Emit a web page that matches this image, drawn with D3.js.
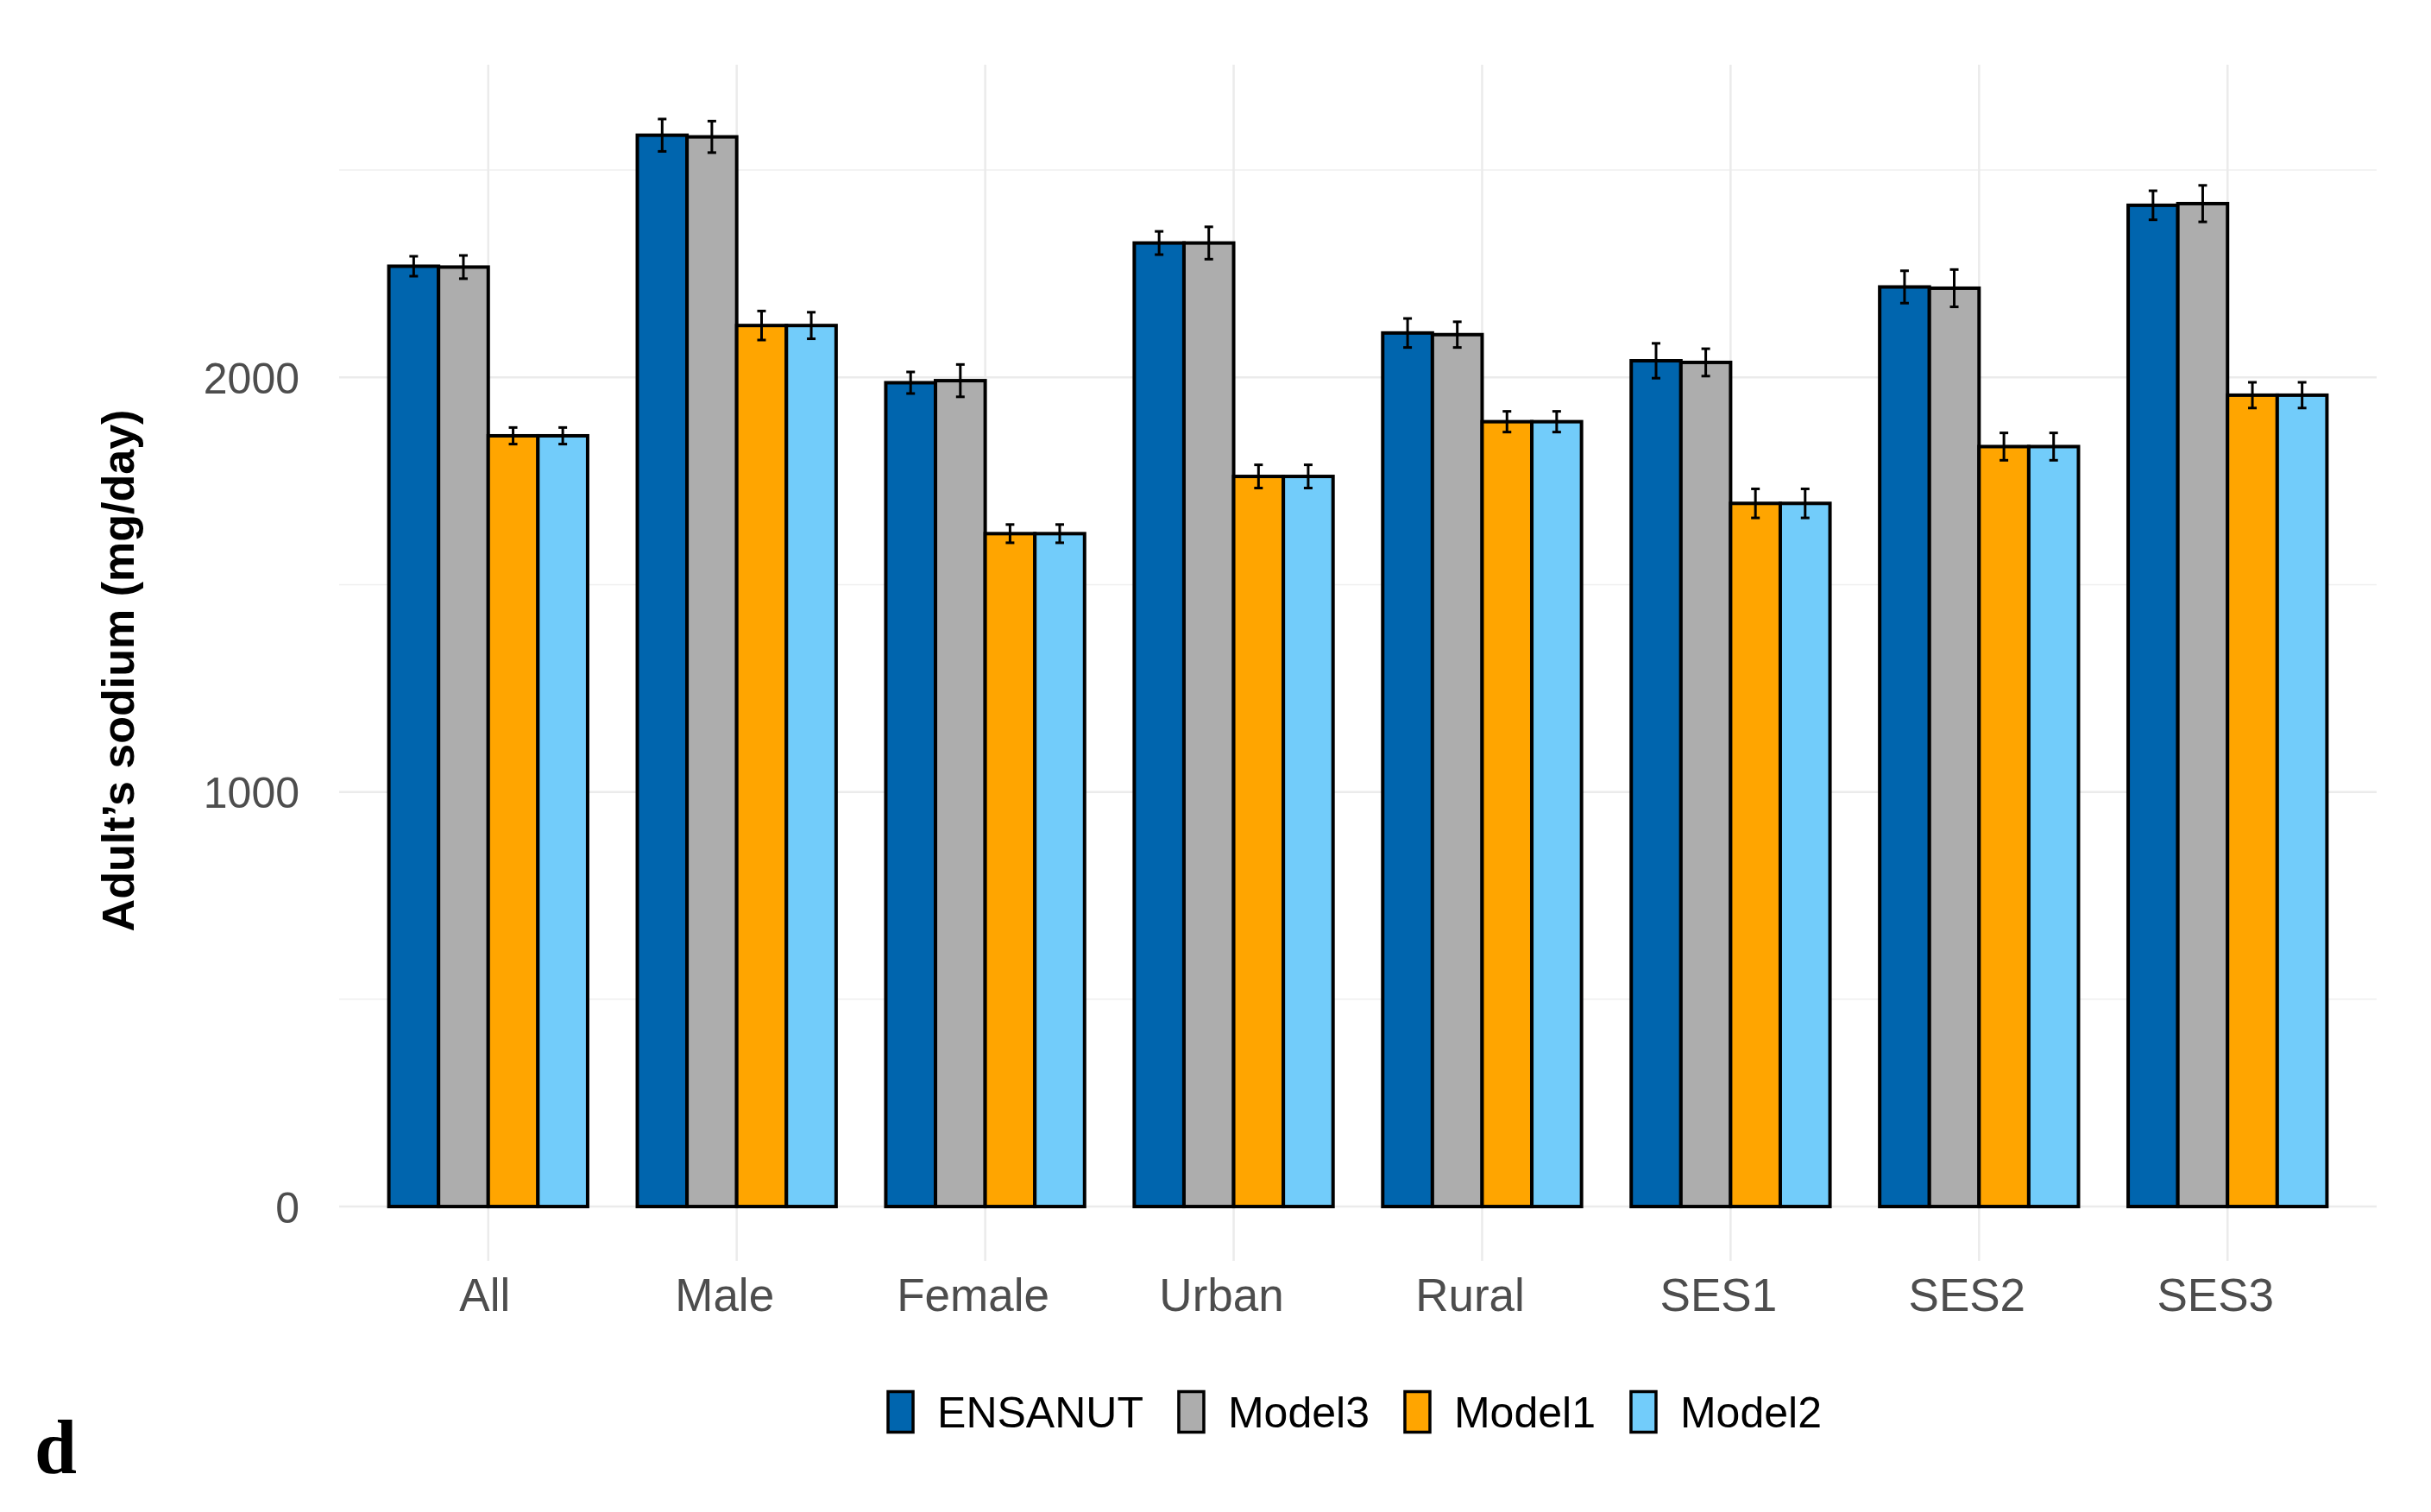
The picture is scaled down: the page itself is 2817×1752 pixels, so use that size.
<!DOCTYPE html>
<html>
<head>
<meta charset="utf-8">
<script src="https://cdn.jsdelivr.net/npm/d3@7"></script>
<style>
  html, body { margin: 0; padding: 0; background: #fff; }
  svg { display: block; }
</style>
</head>
<body>
<div id="main-vis"></div>
<script>
// data
const categories = ["All", "Male", "Female", "Urban", "Rural", "SES1", "SES2", "SES3"]
const seriesNames = ["ENSANUT", "Model3", "Model1", "Model2"]
const seriesColors = ["#0065AE", "#ADADAD", "#FFA500", "#72CCFA"]

const ensanut    = [2268, 2584, 1987, 2324, 2107, 2040, 2218, 2415]
const ensanutErr = [24, 39, 26, 28, 35, 42, 39, 35]
const model3     = [2266, 2580, 1992, 2324, 2103, 2036, 2215, 2419]
const model3Err  = [28, 38, 39, 39, 31, 33, 45, 44]
const model1     = [1859, 2125, 1623, 1761, 1893, 1696, 1833, 1957]
const model1Err  = [20, 35, 22, 28, 25, 35, 33, 31]
const model2     = [1859, 2125, 1623, 1761, 1893, 1696, 1833, 1957]
const model2Err  = [20, 32, 22, 28, 25, 35, 33, 31]

const yTicks = [0, 1000, 2000]
const yMinorTicks = [500, 1500, 2500]

const W = 2817, H = 1752
const panel = {left: 393, right: 2754, top: 75, bottom: 1461}
const font = "'Liberation Sans', Arial, sans-serif"

const values = [ensanut, model3, model1, model2]
const errors = [ensanutErr, model3Err, model1Err, model2Err]

// long table for the bars
const rows = []
categories.forEach((c, i) => {
    seriesNames.forEach((s, j) => {
        rows.push({cat: c, series: s, color: seriesColors[j], v: values[j][i], e: errors[j][i]})
    })
})

const svg = d3.select('#main-vis').append('svg')
    .attr('width', W)
    .attr('height', H)
    .style('background', '#fff')

const x = d3.scaleBand()
    .domain(categories)
    .range([panel.left, panel.right])
    .paddingInner(0.2)
    .paddingOuter(0.2)

const xs = d3.scaleBand()
    .domain(seriesNames)
    .range([0, x.bandwidth()])
    .padding(0)

const y = d3.scaleLinear()
    .domain([-131, 2754])
    .range([panel.bottom, panel.top])

// grid lines
const grid = svg.append('g')
grid.selectAll('line.minor')
    .data(yMinorTicks)
    .join('line')
        .attr('class', 'minor')
        .attr('x1', panel.left).attr('x2', panel.right)
        .attr('y1', d => y(d)).attr('y2', d => y(d))
        .attr('stroke', '#EFEFEF')
        .attr('stroke-width', 1.5)
grid.selectAll('line.major')
    .data(yTicks)
    .join('line')
        .attr('class', 'major')
        .attr('x1', panel.left).attr('x2', panel.right)
        .attr('y1', d => y(d)).attr('y2', d => y(d))
        .attr('stroke', '#EBEBEB')
        .attr('stroke-width', 2.5)
grid.selectAll('line.vmajor')
    .data(categories)
    .join('line')
        .attr('class', 'vmajor')
        .attr('x1', d => x(d) + x.bandwidth() / 2).attr('x2', d => x(d) + x.bandwidth() / 2)
        .attr('y1', panel.top).attr('y2', panel.bottom)
        .attr('stroke', '#EBEBEB')
        .attr('stroke-width', 2.5)

// bars
svg.append('g').selectAll('rect')
    .data(rows)
    .join('rect')
        .attr('x', d => x(d.cat) + xs(d.series))
        .attr('y', d => y(d.v))
        .attr('width', xs.bandwidth())
        .attr('height', d => y(0) - y(d.v))
        .attr('fill', d => d.color)
        .attr('stroke', '#000')
        .attr('stroke-width', 4)

// error bars
const capHalf = 5
const eb = svg.append('g')
    .attr('stroke', '#000')
    .attr('stroke-width', 3)
eb.selectAll('g')
    .data(rows)
    .join('g')
    .each(function (d) {
        const cx = x(d.cat) + xs(d.series) + xs.bandwidth() / 2
        const g = d3.select(this)
        g.append('line').attr('x1', cx).attr('x2', cx).attr('y1', y(d.v + d.e)).attr('y2', y(d.v - d.e))
        g.append('line').attr('x1', cx - capHalf).attr('x2', cx + capHalf).attr('y1', y(d.v + d.e)).attr('y2', y(d.v + d.e))
        g.append('line').attr('x1', cx - capHalf).attr('x2', cx + capHalf).attr('y1', y(d.v - d.e)).attr('y2', y(d.v - d.e))
    })

// y axis labels
const yAxis = svg.append('g')
    .attr('transform', `translate(${panel.left - 46},0)`)
    .call(d3.axisLeft(y).tickValues(yTicks).tickSize(0).tickPadding(0).tickFormat(d3.format('d')))
yAxis.select('.domain').remove()
yAxis.selectAll('text')
    .attr('fill', '#4D4D4D')
    .style('font-family', font)
    .style('font-size', '50px')
    .attr('dy', '0.36em')

// x axis labels
const xAxis = svg.append('g')
    .attr('transform', `translate(0,${1479})`)
    .call(d3.axisBottom(x).tickSize(0).tickPadding(0))
xAxis.select('.domain').remove()
xAxis.selectAll('text')
    .attr('fill', '#4D4D4D')
    .style('font-family', font)
    .style('font-size', '53px')
    .attr('dy', '0.76em')
    .attr('dx', (d, i) => i === 0 ? -4 : -14)

// y title
svg.append('text')
    .attr('transform', `translate(155,${(panel.top + panel.bottom) / 2 + 9}) rotate(-90)`)
    .attr('text-anchor', 'middle')
    .style('font-family', font)
    .style('font-size', '52px')
    .style('font-weight', 'bold')
    .attr('fill', '#000')
    .text('Adult\u2019s sodium (mg/day)')

// legend
const legend = svg.append('g')
const keyW = 29, keyH = 47, keyGap = 28, itemGap = 41
const legendY = 1636
let cursor = 0
seriesNames.forEach((s, j) => {
    const g = legend.append('g')
    g.append('rect')
        .attr('x', 0).attr('y', legendY - keyH / 2)
        .attr('width', keyW).attr('height', keyH)
        .attr('fill', seriesColors[j])
        .attr('stroke', '#000')
        .attr('stroke-width', 3.5)
    const t = g.append('text')
        .attr('x', keyW + keyGap)
        .attr('y', legendY)
        .attr('dy', '0.36em')
        .style('font-family', font)
        .style('font-size', '50px')
        .attr('fill', '#000')
        .text(s)
    const w = keyW + keyGap + t.node().getComputedTextLength()
    g.attr('transform', `translate(${cursor},0)`)
    cursor += w + itemGap
})
const legendW = cursor - itemGap
legend.attr('transform', `translate(${1570 - legendW / 2},0)`)

// panel letter
svg.append('text')
    .attr('x', 40)
    .attr('y', 1707)
    .style('font-family', "'Liberation Serif', 'Times New Roman', serif")
    .style('font-size', '88px')
    .style('font-weight', 'bold')
    .attr('fill', '#000')
    .text('d')
</script>
</body>
</html>
